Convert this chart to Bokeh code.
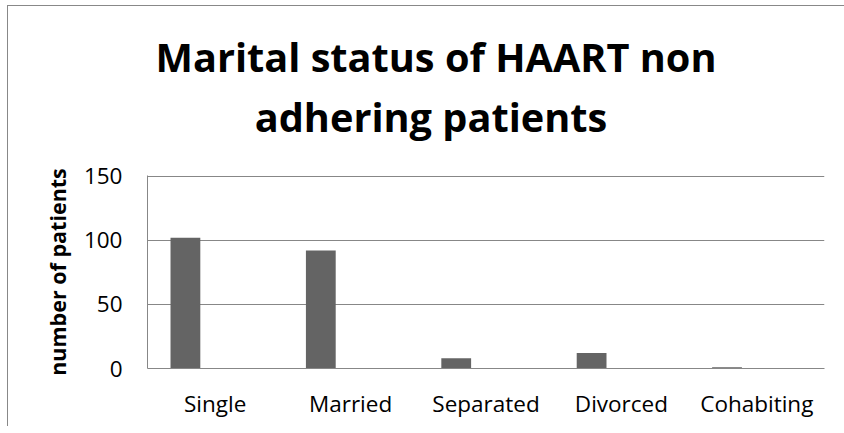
from bokeh.plotting import figure
from bokeh.layouts import column
from bokeh.models import FactorRange, Range1d, FixedTicker, ColumnDataSource
from bokeh.transform import dodge
from bokeh.core.properties import value
from bokeh.embed import file_html
from bokeh.resources import INLINE

# ---- data ----
categories = ["Single", "Married", "Separated", "Divorced", "Cohabiting"]
patients = [102, 92, 8, 12, 1]
y_ticks = [0, 50, 100, 150]
title_lines = ["Marital status of HAART non", "adhering patients"]
y_label = "number of patients"

FONT = "Open Sans"
GRID = "#878787"
BAR = "#646464"
W = 836
ML, MR = 139, 20          # borders around the plot frame (same for both figures)
X0, Y0 = 8, 6             # page position of the figures' top-left corner

# ---- title strip (two centred bold lines) ----
TH = 150
tfig = figure(width=W, height=TH, title=None,
              x_axis_location=None, y_axis_location=None,
              x_range=Range1d(X0 + ML, X0 + W - MR), y_range=Range1d(Y0 + TH, Y0),
              min_border_left=ML, min_border_right=MR,
              min_border_top=0, min_border_bottom=0,
              output_backend="svg", toolbar_location=None)
tfig.grid.visible = False
tfig.outline_line_color = None
title_src = ColumnDataSource(data=dict(text=title_lines, cx=[435.5, 430.5], base=[56, 116]))
tfig.text(x="cx", y="base", text="text", source=title_src,
          text_align="center", text_baseline="alphabetic",
          text_font=value(FONT), text_font_style="bold", text_font_size="39.7px",
          text_color="#000000")

# ---- bar chart ----
source = ColumnDataSource(data=dict(cat=categories, n=patients))
p = figure(
    x_range=FactorRange(factors=categories, range_padding=0),
    y_range=Range1d(0, 150.5),
    width=W, height=270,
    min_border_left=ML, min_border_right=MR,
    min_border_top=19, min_border_bottom=58,
    output_backend="svg", toolbar_location=None,
)
p.outline_line_color = None

p.vbar(x=dodge("cat", -0.22, range=p.x_range), top="n", width=0.22,
       source=source, fill_color=BAR, line_color=None)

p.xgrid.grid_line_color = None
p.ygrid.grid_line_color = GRID
p.ygrid.grid_line_width = 1
p.yaxis.ticker = FixedTicker(ticks=y_ticks)

for ax in (p.xaxis, p.yaxis):
    ax.axis_line_color = GRID
    ax.axis_line_width = 1
    ax.major_tick_line_color = None
    ax.minor_tick_line_color = None
    ax.major_tick_in = 0
    ax.major_tick_out = 0
    ax.minor_tick_in = 0
    ax.minor_tick_out = 0
    ax.major_label_text_font = FONT
    ax.major_label_text_font_size = "22.5px"
    ax.major_label_text_color = "#000000"

p.yaxis.major_label_standoff = 25
p.xaxis.major_label_standoff = 19
p.yaxis.axis_label = y_label
p.yaxis.axis_label_text_font = FONT
p.yaxis.axis_label_text_font_style = "bold"
p.yaxis.axis_label_text_font_size = "21.5px"
p.yaxis.axis_label_text_color = "#000000"
p.yaxis.axis_label_standoff = 9

layout = column(tfig, p, spacing=0,
                styles={"margin-left": "7px", "margin-top": "5px",
                        "border-top": "1px solid #888888",
                        "border-left": "1px solid #888888"})

open("out.html", "w").write(file_html(layout, INLINE))
